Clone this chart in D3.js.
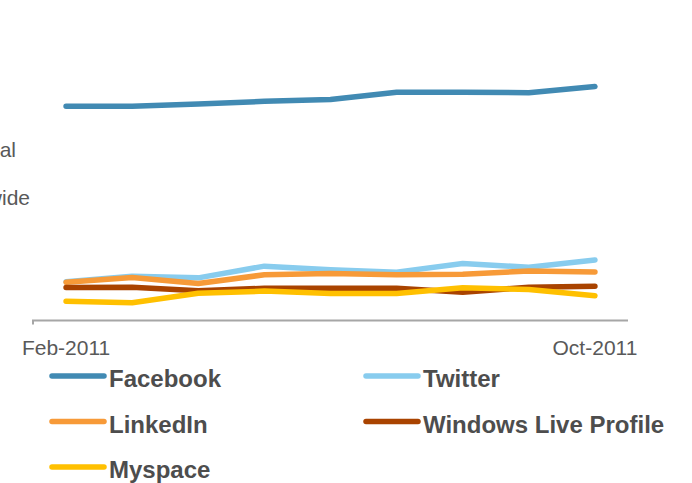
<!DOCTYPE html>
<html>
<head>
<meta charset="utf-8">
<script src="https://cdn.jsdelivr.net/npm/d3@7"></script>
<style>
  html, body { margin: 0; padding: 0; background: #fff; }
  svg { display: block; }
</style>
</head>
<body>
<svg id="chart" width="692" height="483"></svg>
<script>
const months = ["Feb-2011","Mar-2011","Apr-2011","May-2011","Jun-2011","Jul-2011","Aug-2011","Sep-2011","Oct-2011"];
const tickLabels = ["Feb-2011","Oct-2011"];
const seriesNames = ["Facebook","Twitter","LinkedIn","Windows Live Profile","Myspace"];
const facebook = [82.4, 82.4, 83.3, 84.3, 85.0, 87.8, 87.8, 87.6, 90.0];
const twitter  = [14.9, 17.0, 16.4, 20.9, 19.5, 18.6, 21.9, 20.5, 23.3];
const linkedin = [14.7, 16.5, 14.2, 17.6, 18.1, 17.6, 17.8, 19.0, 18.7];
const windowsLive = [12.7, 12.8, 11.4, 12.4, 12.4, 12.4, 10.9, 12.8, 13.2];
const myspace  = [7.4, 6.8, 10.5, 11.3, 10.4, 10.4, 12.6, 11.9, 9.5];
const yTitleLines = ["% of total", "worldwide"];

const colors = ["#418AB3", "#88CCEE", "#F79A38", "#A94300", "#FFC000"];
const seriesValues = [facebook, twitter, linkedin, windowsLive, myspace];

const svg = d3.select("#chart");

const x = d3.scaleBand().domain(months).range([33, 628]).padding(0);
const y = d3.scaleLinear().domain([0, 100]).range([320.5, 60.5]);
const cx = d => x(d) + x.bandwidth() / 2;

// y-axis title (partly beyond the left edge, as in the reference)
const yTitle = svg.append("g")
  .attr("font-family", "Liberation Sans, Arial, sans-serif")
  .attr("font-size", 21)
  .attr("fill", "#595959")
  .attr("text-anchor", "end");
const yTitlePos = [[16, 157], [30, 205]];
yTitleLines.forEach((t, i) => {
  yTitle.append("text").attr("x", yTitlePos[i][0]).attr("y", yTitlePos[i][1]).text(t);
});

// x axis
const xAxis = d3.axisBottom(x)
  .tickValues(tickLabels)
  .tickSize(0)
  .tickSizeOuter(0)
  .tickPadding(0);
const gx = svg.append("g").attr("transform", "translate(0,320.5)").call(xAxis);
gx.select(".domain")
  .attr("d", `M${x.range()[0]},4V0H${x.range()[1]}`)
  .attr("stroke", "#A6A6A6")
  .attr("stroke-width", 2)
  .attr("fill", "none");
gx.selectAll(".tick text")
  .attr("y", 34.5)
  .attr("dy", null)
  .attr("font-family", "Liberation Sans, Arial, sans-serif")
  .attr("font-size", 21)
  .attr("fill", "#595959");

// lines
const line = d3.line()
  .x((d, i) => cx(months[i]))
  .y(d => y(d));

seriesValues.forEach((vals, k) => {
  svg.append("path")
    .datum(vals)
    .attr("d", line)
    .attr("fill", "none")
    .attr("stroke", colors[k])
    .attr("stroke-width", 5.5)
    .attr("stroke-linecap", "round")
    .attr("stroke-linejoin", "round");
});

// legend
const legendPos = [[50, 376], [364, 376], [50, 421.5], [364, 421.5], [50, 467]];
const legend = svg.append("g");
seriesNames.forEach((name, k) => {
  const [lx, ly] = legendPos[k];
  legend.append("line")
    .attr("x1", lx + 2).attr("x2", lx + 54)
    .attr("y1", ly).attr("y2", ly)
    .attr("stroke", colors[k])
    .attr("stroke-width", 5.5)
    .attr("stroke-linecap", "round");
  legend.append("text")
    .attr("x", lx + 59)
    .attr("y", ly + 11)
    .attr("font-family", "Liberation Sans, Arial, sans-serif")
    .attr("font-weight", "bold")
    .attr("font-size", 24)
    .attr("fill", "#4D4D4D")
    .text(name);
});
</script>
</body>
</html>
